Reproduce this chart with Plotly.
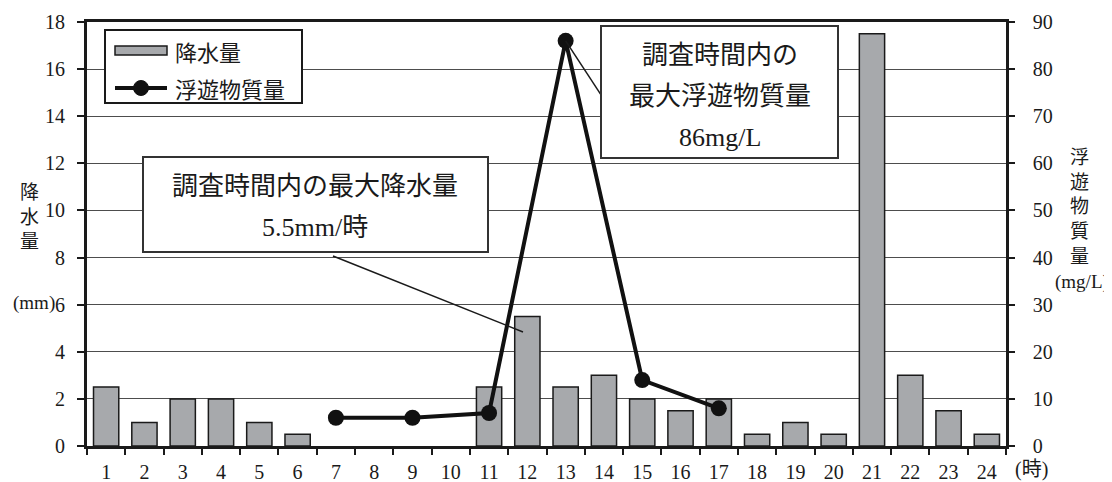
import plotly.graph_objects as go

# ---------------- data ----------------
hours = list(range(1, 25))
rain_mm = [2.5, 1, 2, 2, 1, 0.5, 0, 0, 0, 0, 2.5, 5.5,
           2.5, 3, 2, 1.5, 2, 0.5, 1, 0.5, 17.5, 3, 1.5, 0.5]
ss_hours = [7, 9, 11, 13, 15, 17]
ss_mgL = [6, 6, 7, 86, 14, 8]

left_ticks = list(range(0, 19, 2))
right_ticks = list(range(0, 91, 10))

# ---------------- layout geometry (page pixels) ----------------
OFF = 8  # page body margin
W, H = 1112 - OFF, 482 - OFF
L, R, T, B = 87 - OFF, 106, 22 - OFF, 36
PW, PH = W - L - R, H - T - B
X0, Y1 = OFF + L, OFF + T + PH  # plot-area left / bottom in page pixels

def px(x):
    return (x - X0) / PW

def py(y):
    return (Y1 - y) / PH

NUM = "Liberation Serif, Noto Sans CJK JP"
JP = "Noto Sans CJK JP"
INK = "#1a1a1a"
BARGRAY = "#a7a9ac"

fig = go.Figure()

fig.add_trace(go.Bar(x=hours, y=rain_mm, width=0.66,
                     marker=dict(color=BARGRAY, line=dict(color=INK, width=[1.5 if v > 0 else 0 for v in rain_mm])),
                     showlegend=False, yaxis="y"))
fig.add_trace(go.Scatter(x=ss_hours, y=ss_mgL, mode="lines+markers", yaxis="y2",
                         line=dict(color="#111111", width=4), marker=dict(size=16, color="#111111"),
                         showlegend=False))

fig.update_layout(
    width=W, height=H,
    margin=dict(l=L, r=R, t=T, b=B, autoexpand=False),
    paper_bgcolor="white", plot_bgcolor="white",
    font=dict(family=NUM, size=20, color=INK),
    xaxis=dict(range=[0.5, 24.5], tickvals=hours, ticktext=[str(h) for h in hours], ticks="",
               showline=True, linecolor=INK, linewidth=2.5, mirror=True, showgrid=False, zeroline=False,
               ticklabelstandoff=6,
               minor=dict(tickvals=[h - 0.5 for h in hours] + [24.5], ticks="outside", ticklen=6,
                          tickcolor=INK, tickwidth=1.5, showgrid=False)),
    yaxis=dict(range=[0, 18], tickvals=left_ticks, ticks="outside", ticklen=7, tickcolor=INK, tickwidth=1.5,
               showline=True, linecolor=INK, linewidth=3, showgrid=True, gridcolor="#4d4d4d", gridwidth=1.3,
               zeroline=False, ticklabelstandoff=8),
    yaxis2=dict(range=[0, 90], tickvals=right_ticks, overlaying="y", side="right", ticks="outside", ticklen=6,
                tickcolor=INK, tickwidth=1.5, showline=True, linecolor=INK, linewidth=2.5, showgrid=False,
                zeroline=False, ticklabelstandoff=14),
)

shapes = []
annotations = []

def label(x, y, text, family=JP, size=20, xanchor="center"):
    annotations.append(dict(x=px(x), y=py(y), xref="paper", yref="paper", text=text, showarrow=False,
                            xanchor=xanchor, yanchor="middle", font=dict(family=family, size=size, color=INK)))

# axis titles (vertical writing)
label(29, 215, "<br>".join("降水量"), size=19)
label(57, 303, "(mm)", family=NUM, size=19, xanchor="right")
label(1079, 205, "<br>".join("浮遊物質量"), size=19)
label(1111, 282, "(mg/L)", family=NUM, size=19, xanchor="right")
label(1031, 469, "(時)", family=NUM)

# legend
shapes.append(dict(type="rect", xref="paper", yref="paper", x0=px(105), x1=px(302), y0=py(30), y1=py(103),
                   fillcolor="white", line=dict(color=INK, width=2), layer="above"))
shapes.append(dict(type="rect", xref="paper", yref="paper", x0=px(115), x1=px(167), y0=py(46), y1=py(55),
                   fillcolor=BARGRAY, line=dict(color=INK, width=1.5), layer="above"))
shapes.append(dict(type="line", xref="paper", yref="paper", x0=px(115), x1=px(167), y0=py(88), y1=py(88),
                   line=dict(color="#111111", width=4), layer="above"))
shapes.append(dict(type="circle", xref="paper", yref="paper", x0=px(133.5), x1=px(148.5), y0=py(80.5), y1=py(95.5),
                   fillcolor="#111111", line=dict(color="#111111", width=1), layer="above"))
label(173, 51, "降水量", size=22, xanchor="left")
label(173, 88, "浮遊物質量", size=22, xanchor="left")

# callout 1: max rainfall
shapes.append(dict(type="line", xref="paper", yref="paper", x0=px(333), y0=py(256), x1=px(523), y1=py(332),
                   line=dict(color=INK, width=1.5), layer="above"))
shapes.append(dict(type="rect", xref="paper", yref="paper", x0=px(143), x1=px(488), y0=py(157), y1=py(252),
                   fillcolor="white", line=dict(color="#333333", width=2), layer="above"))
label(315, 183, "調査時間内の最大降水量", size=26)
label(315, 227, "5.5mm/時", family=NUM, size=26)

# callout 2: max suspended solids
shapes.append(dict(type="line", xref="x", yref="y2", x0=ss_hours[3], y0=ss_mgL[3], x1=13.92, y1=74.6,
                   line=dict(color=INK, width=1.5), layer="above"))
shapes.append(dict(type="rect", xref="paper", yref="paper", x0=px(601), x1=px(838), y0=py(26), y1=py(158),
                   fillcolor="white", line=dict(color="#333333", width=2), layer="above"))
label(720, 52, "調査時間内の", size=26)
label(720, 94, "最大浮遊物質量", size=26)
label(720, 137, "86mg/L", family=NUM, size=26)

fig.update_layout(shapes=shapes, annotations=annotations)

fig.write_html("out.html")
